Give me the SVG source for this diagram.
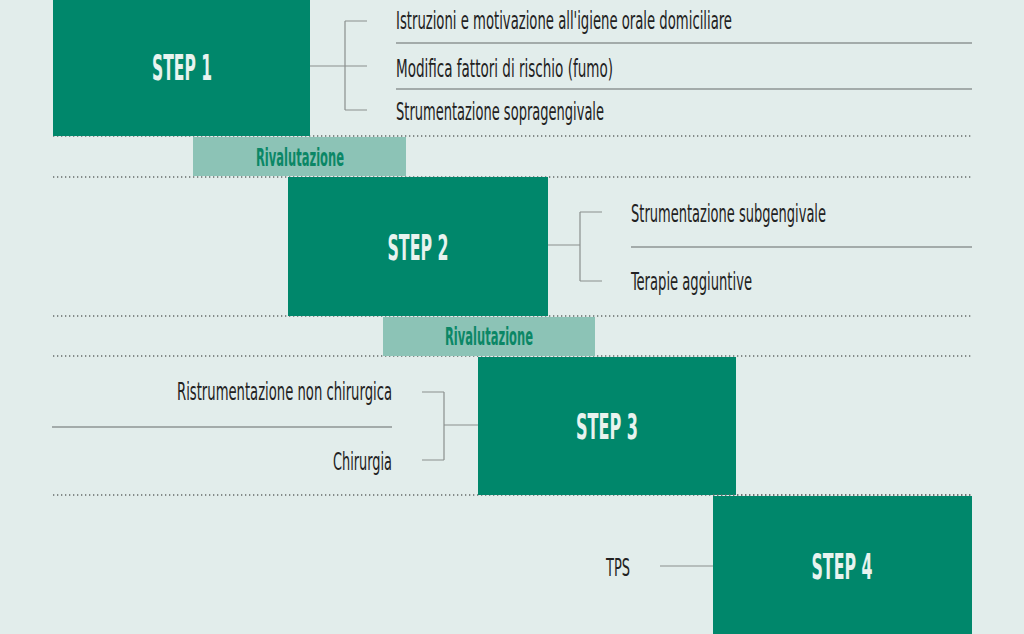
<svg xmlns="http://www.w3.org/2000/svg" width="1024" height="634" viewBox="0 0 1024 634">
<style>
.bg{fill:#e2edeb}
.step{fill:#00876b}
.rival{fill:#8cc3b6}
.steptxt{font-family:"Liberation Sans Narrow","DejaVu Sans Condensed","Liberation Sans",sans-serif;font-weight:bold;font-size:36px;fill:#e8f3ef;text-anchor:middle}
.rivtxt{font-family:"Liberation Sans Narrow","DejaVu Sans Condensed","Liberation Sans",sans-serif;font-weight:bold;font-size:25px;fill:#0b8766;text-anchor:middle}
.item{font-family:"Liberation Sans Narrow","DejaVu Sans Condensed","Liberation Sans",sans-serif;font-size:25px;fill:#222}
.dot{stroke:#666b6a;stroke-width:1.5;stroke-dasharray:1.3 2.7;fill:none}
.sep{stroke:#8e9594;stroke-width:1.3;fill:none}
.conn{stroke:#8a8f8e;stroke-width:1.2;fill:none}
</style>
<rect class="bg" x="0" y="0" width="1024" height="634"/>
<g id="dotted-lines">
<line class="dot" x1="53" y1="136" x2="972" y2="136"/>
<line class="dot" x1="53" y1="177" x2="972" y2="177"/>
<line class="dot" x1="53" y1="316" x2="972" y2="316"/>
<line class="dot" x1="53" y1="356" x2="972" y2="356"/>
<line class="dot" x1="53" y1="495" x2="972" y2="495"/>
</g>
<g id="step1">
<rect class="step" x="53" y="0" width="257" height="136"/>
<text class="steptxt" x="182" y="80" textLength="60" lengthAdjust="spacingAndGlyphs">STEP 1</text>
</g>
<g id="rivalutazione1">
<rect class="rival" x="193" y="137" width="213" height="39"/>
<text class="rivtxt" x="300" y="166" textLength="88" lengthAdjust="spacingAndGlyphs">Rivalutazione</text>
</g>
<g id="step2">
<rect class="step" x="288" y="177" width="260" height="139"/>
<text class="steptxt" x="418" y="260" textLength="61" lengthAdjust="spacingAndGlyphs">STEP 2</text>
</g>
<g id="rivalutazione2">
<rect class="rival" x="383" y="317" width="212" height="39"/>
<text class="rivtxt" x="489" y="345" textLength="88" lengthAdjust="spacingAndGlyphs">Rivalutazione</text>
</g>
<g id="step3">
<rect class="step" x="478" y="357" width="258" height="138"/>
<text class="steptxt" x="607" y="439" textLength="62" lengthAdjust="spacingAndGlyphs">STEP 3</text>
</g>
<g id="step4">
<rect class="step" x="713" y="496" width="259" height="138"/>
<text class="steptxt" x="842" y="579" textLength="61" lengthAdjust="spacingAndGlyphs">STEP 4</text>
</g>
<line class="dot" x1="713" y1="495" x2="972" y2="495"/>
<g id="items-step1">
<text class="item" x="396" y="29" textLength="336" lengthAdjust="spacingAndGlyphs">Istruzioni e motivazione all'igiene orale domiciliare</text>
<text class="item" x="396" y="77" textLength="217" lengthAdjust="spacingAndGlyphs">Modifica fattori di rischio (fumo)</text>
<text class="item" x="396" y="120" textLength="208" lengthAdjust="spacingAndGlyphs">Strumentazione sopragengivale</text>
<line class="sep" x1="396" y1="43" x2="972" y2="43"/>
<line class="sep" x1="396" y1="89" x2="972" y2="89"/>
</g>
<g id="items-step2">
<text class="item" x="631" y="222" textLength="195" lengthAdjust="spacingAndGlyphs">Strumentazione subgengivale</text>
<text class="item" x="631" y="290" textLength="121" lengthAdjust="spacingAndGlyphs">Terapie aggiuntive</text>
<line class="sep" x1="631" y1="247" x2="972" y2="247"/>
</g>
<g id="items-step3">
<text class="item" x="392" y="400" text-anchor="end" textLength="215" lengthAdjust="spacingAndGlyphs">Ristrumentazione non chirurgica</text>
<text class="item" x="392" y="470" text-anchor="end" textLength="59" lengthAdjust="spacingAndGlyphs">Chirurgia</text>
<line class="sep" x1="52" y1="427" x2="392" y2="427"/>
</g>
<g id="items-step4">
<text class="item" x="606" y="576" textLength="24" lengthAdjust="spacingAndGlyphs">TPS</text>
</g>
<g id="connectors">
<path class="conn" d="M310 66 H345 M345 21 V110 M345 21 H367 M345 66 H367 M345 110 H367"/>
<path class="conn" d="M548 245 H580 M580 212 V281 M580 212 H602 M580 281 H602"/>
<path class="conn" d="M478 425 H444 M444 392 V460 M444 392 H422 M444 460 H422"/>
<path class="conn" d="M660 566 H713"/>
</g>
</svg>
